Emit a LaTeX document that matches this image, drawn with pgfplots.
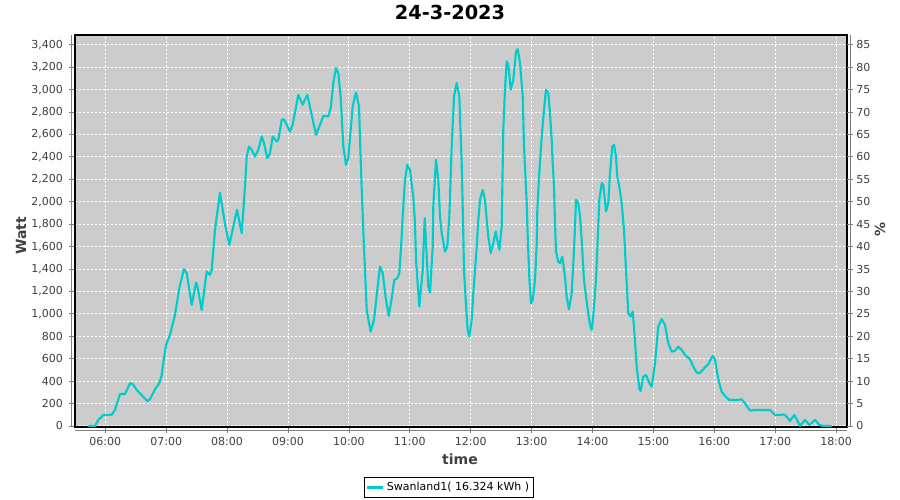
\documentclass[border=0pt]{standalone}
\usepackage{fontspec}
\setmainfont{DejaVu Sans}
\usepackage{pgfplots}
\pgfplotsset{compat=1.18}
\definecolor{plotbg}{RGB}{204,204,204}
\definecolor{lineCyan}{RGB}{0,204,204}
\definecolor{axisgray}{RGB}{128,128,128}
\definecolor{labelgray}{RGB}{64,64,64}
\begin{document}
\begin{tikzpicture}
\path[use as bounding box] (0,0) rectangle (675pt,375pt);
\begin{axis}[
  name=main,
  at={(56.25pt,54.75pt)}, anchor=south west,
  scale only axis, width=579pt, height=294pt,
  xmin=5.5025, xmax=18.179,
  ymin=-9, ymax=3487,
  axis background/.style={fill=plotbg},
  axis line style={black, line width=0.8pt},
  xtick={6,...,18},
  xticklabels={06:00,07:00,08:00,09:00,10:00,11:00,12:00,13:00,14:00,15:00,16:00,17:00,18:00},
  ytick={0,200,...,3400},
  scaled y ticks=false,
  /pgf/number format/.cd, 1000 sep={,}, assume math mode=true, /pgfplots/.cd,
  tick align=outside, major tick length=4.5pt,
  tick style={axisgray, line width=0.6pt},
  ytick pos=left, xtick pos=bottom,
  tick label style={font=\fontsize{8.25pt}{10pt}\selectfont, text=labelgray},
  yticklabel style={xshift=-1pt},
  grid=major,
  major grid style={white, line width=0.75pt, dash pattern=on 1.5pt off 1.5pt},
  legend style={at={(axis description cs:0.4845,-0.1543)}, anchor=center,
    draw=black, line width=0.6pt, fill=white,
    font=\fontsize{8.25pt}{10pt}\selectfont, inner sep=1.5pt,
    /tikz/every even column/.append style={column sep=2pt}},
  legend image code/.code={\draw[#1] (0pt,0pt) -- (12pt,0pt);},
]
\addplot[lineCyan, line width=1.6pt, line join=round] coordinates {
(5.721,0) (5.831,0) (5.885,54) (5.967,98) (6.105,100) (6.159,143) (6.241,285)
(6.323,285) (6.406,381) (6.450,375) (6.516,321) (6.690,223) (6.734,238)
(6.816,327) (6.887,381) (6.926,455) (6.964,604) (6.997,723) (7.062,812)
(7.144,990) (7.215,1229) (7.292,1398) (7.337,1363) (7.419,1080) (7.489,1279)
(7.511,1250) (7.583,1035) (7.665,1377) (7.719,1348) (7.747,1392) (7.801,1749)
(7.883,2079) (7.966,1800) (8.036,1615) (8.102,1779) (8.163,1928) (8.240,1720)
(8.294,2136) (8.322,2403) (8.360,2492) (8.404,2463) (8.458,2403) (8.512,2463)
(8.568,2582) (8.606,2522) (8.660,2389) (8.704,2434) (8.749,2582) (8.814,2537)
(8.841,2552) (8.897,2731) (8.934,2736) (9.033,2626) (9.077,2686) (9.169,2954)
(9.241,2865) (9.317,2954) (9.389,2775) (9.460,2597) (9.537,2701) (9.580,2766)
(9.662,2760) (9.701,2835) (9.744,3058) (9.788,3192) (9.826,3148) (9.865,2939)
(9.908,2492) (9.952,2329) (9.990,2389) (10.062,2850) (10.117,2975) (10.166,2850)
(10.199,2285) (10.236,1749) (10.292,1035) (10.358,842) (10.412,946) (10.466,1214)
(10.511,1422) (10.555,1363) (10.609,1124) (10.654,982) (10.703,1139) (10.745,1303)
(10.795,1318) (10.828,1363) (10.867,1690) (10.883,1868) (10.921,2195) (10.959,2329)
(11.003,2285) (11.057,2046) (11.085,1809) (11.102,1481) (11.156,1065) (11.212,1392)
(11.245,1853) (11.304,1243) (11.332,1190) (11.376,1600) (11.386,1957) (11.430,2374)
(11.468,2195) (11.496,1868) (11.524,1720) (11.578,1555) (11.616,1600) (11.649,1868)
(11.688,2492) (11.726,2939) (11.770,3058) (11.813,2939) (11.852,2344) (11.877,1749)
(11.890,1392) (11.918,1124) (11.950,857) (11.977,797) (12.016,946) (12.043,1184)
(12.099,1600) (12.125,1838) (12.153,2017) (12.197,2106) (12.235,2017) (12.263,1838)
(12.289,1690) (12.328,1541) (12.371,1630) (12.411,1734) (12.437,1660) (12.470,1571)
(12.509,1779) (12.535,2641) (12.563,2999) (12.591,3251) (12.617,3222) (12.657,2999)
(12.700,3088) (12.744,3340) (12.772,3361) (12.810,3237) (12.854,2939) (12.875,2492)
(12.920,1987) (12.936,1690) (12.962,1332) (12.990,1095) (13.018,1124) (13.056,1303)
(13.084,1630) (13.094,1928) (13.126,2255) (13.166,2582) (13.204,2820) (13.236,2999)
(13.274,2969) (13.302,2790) (13.330,2552) (13.346,2344) (13.368,2136) (13.384,1809)
(13.401,1555) (13.438,1466) (13.466,1452) (13.504,1511) (13.548,1332) (13.576,1154)
(13.614,1041) (13.658,1184) (13.685,1452) (13.713,1779) (13.729,2017) (13.767,1987)
(13.795,1868) (13.823,1660) (13.860,1303) (13.915,1065) (13.959,901) (13.987,857)
(14.013,982) (14.057,1303) (14.085,1660) (14.112,2017) (14.151,2166) (14.177,2151)
(14.222,1913) (14.259,1987) (14.287,2255) (14.325,2492) (14.353,2508) (14.386,2403)
(14.407,2225) (14.440,2136) (14.479,1987) (14.517,1749) (14.550,1392) (14.588,1006)
(14.627,976) (14.660,1020) (14.681,886) (14.726,529) (14.768,336) (14.791,312)
(14.834,440) (14.879,455) (14.933,381) (14.972,351) (15.026,559) (15.080,886)
(15.136,955) (15.190,901) (15.245,738) (15.300,663) (15.355,672) (15.409,708)
(15.465,678) (15.519,634) (15.601,595) (15.655,529) (15.711,476) (15.754,470)
(15.819,506) (15.901,553) (15.974,625) (16.011,595) (16.049,470) (16.082,381)
(16.121,306) (16.176,268) (16.246,232) (16.368,232) (16.450,238) (16.504,202)
(16.586,137) (16.668,143) (16.915,143) (16.997,98) (17.079,98) (17.144,103)
(17.189,83) (17.243,45) (17.314,98) (17.353,60) (17.407,0) (17.489,54)
(17.560,9) (17.654,54) (17.724,9) (17.790,0) (17.928,0)
};
\addlegendentry{Swanland1( 16.324 kWh )}
\end{axis}
\begin{axis}[
  at={(56.25pt,54.75pt)}, anchor=south west,
  scale only axis, width=579pt, height=294pt,
  xmin=5.5025, xmax=18.179,
  ymin=-0.225, ymax=87.175,
  axis x line=none, axis y line*=right,
  axis line style={draw=none},
  ytick={0,5,...,85},
  /pgf/number format/.cd, assume math mode=true, /pgfplots/.cd,
  tick align=outside, major tick length=4.5pt,
  tick style={axisgray, line width=0.6pt},
  tick label style={font=\fontsize{8.25pt}{10pt}\selectfont, text=labelgray},
  yticklabel style={xshift=-1pt},
]
\addplot[draw=none] coordinates {(6,0)};
\end{axis}
\draw[axisgray, line width=0.75pt] ([xshift=-2.5pt]main.south west) -- ([xshift=-2.5pt]main.north west);
\draw[axisgray, line width=0.75pt] ([yshift=-2.8pt]main.south west) -- ([yshift=-2.8pt]main.south east);
\draw[axisgray, line width=0.75pt] ([xshift=2.8pt]main.south east) -- ([xshift=2.8pt]main.north east);
\node[font=\bfseries\fontsize{14.5pt}{17pt}\selectfont] at (337.5pt,365.6pt) {24-3-2023};
\node[font=\bfseries\fontsize{10.5pt}{12pt}\selectfont, text=labelgray] at (345pt,30.75pt) {time};
\node[font=\bfseries\fontsize{10.5pt}{12pt}\selectfont, text=labelgray, rotate=90] at (15.75pt,198pt) {Watt};
\node[font=\bfseries\fontsize{10.5pt}{12pt}\selectfont, text=labelgray, rotate=90] at (660pt,203.25pt) {\%};
\end{tikzpicture}
\end{document}
